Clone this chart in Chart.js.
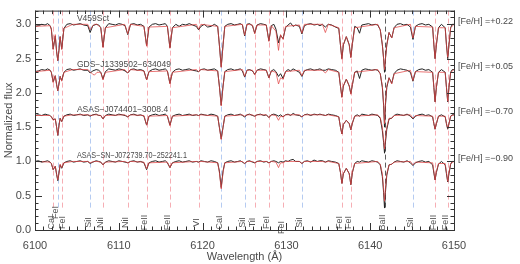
<!DOCTYPE html>
<html lang="en">
<head>
    <meta charset="UTF-8">
    <title>Spectra fit</title>
    <style>
        body { margin: 0; background: #fff; }
        canvas { display: block; }
    </style>
</head>
<body>
    <canvas id="spectra" width="520" height="264"></canvas>

    <script src="https://cdn.jsdelivr.net/npm/chart.js@4.4.1/dist/chart.umd.min.js"></script>
    <script>
        // star names, metallicities and the continuum level each spectrum sits on
        const starNames = ['V459Sct', 'GDS\u2212J1339502\u2212634049', 'ASAS\u2212J074401\u22123008.4', 'ASAS\u2212SN\u2212J072739.70\u2212252241.1'];
        const fehText = ['+0.22', '+0.05', '\u22120.70', '\u22120.90'];
        const continuum = [3.0, 2.34, 1.68, 1.0];

        // identified lines
        const lineWaves = [6102.17, 6102.72, 6103.19, 6106.58, 6108.11, 6111.07, 6113.32, 6116.1, 6119.52, 6122.22, 6125.02,
                           6126.22, 6127.91, 6129.6, 6131.85, 6136.62, 6137.69, 6141.71, 6145.1, 6147.74, 6149.25];
        const lineIons = ['CaI', 'FeI', 'FeI', 'SiI', 'NiI', 'NiI', 'FeII', 'FeII', 'VI', 'CaI', 'SiI',
                          'TiI', 'FeI', 'FeI', 'SiI', 'FeI', 'FeI', 'BaII', 'SiI', 'FeII', 'FeII'];
        const lineFamily = ['r', 'b', 'r', 'b', 'r', 'r', 'r', 'r', 'r', 'b', 'b',
                            'r', 'r', 'r', 'b', 'r', 'r', 'k', 'b', 'r', 'r'];

        // observed spectra (black)
        const obsWave = [
            6100, 6100.4, 6100.8, 6101.2, 6101.5, 6101.8, 6101.95, 6102.17, 6102.42, 6102.58,
            6102.72, 6102.86, 6103.0, 6103.19, 6103.45, 6103.8, 6104.2, 6104.6, 6105.0, 6105.4,
            6105.8, 6106.3, 6106.58, 6106.9, 6107.3, 6107.6, 6107.85, 6108.11, 6108.4, 6108.8,
            6109.2, 6109.6, 6110.0, 6110.4, 6110.75, 6111.07, 6111.4, 6111.8, 6112.2, 6112.6,
            6113.0, 6113.32, 6113.6, 6114.0, 6114.4, 6114.8, 6115.2, 6115.55, 6115.8, 6116.1,
            6116.4, 6116.8, 6117.2, 6117.6, 6118.0, 6118.4, 6118.8, 6119.25, 6119.52, 6119.8,
            6120.2, 6120.6, 6121.0, 6121.4, 6121.8, 6122.0, 6122.22, 6122.44, 6122.65, 6123.0,
            6123.4, 6123.8, 6124.2, 6124.5, 6124.75, 6125.02, 6125.3, 6125.6, 6125.95, 6126.22,
            6126.5, 6126.9, 6127.3, 6127.6, 6127.91, 6128.2, 6128.5, 6128.75, 6129.06, 6129.3,
            6129.6, 6129.9, 6130.2, 6130.5, 6130.8, 6131.1, 6131.55, 6131.85, 6132.15, 6132.5,
            6132.9, 6133.3, 6133.7, 6134.0, 6134.3, 6134.65, 6135.0, 6135.4, 6135.85, 6136.25,
            6136.45, 6136.62, 6136.8, 6137.15, 6137.5, 6137.69, 6137.88, 6138.15, 6138.45, 6138.73,
            6139.0, 6139.4, 6139.8, 6140.2, 6140.6, 6140.9, 6141.2, 6141.45, 6141.6, 6141.71,
            6141.82, 6141.98, 6142.25, 6142.57, 6142.85, 6143.2, 6143.6, 6144.0, 6144.4, 6144.8,
            6145.1, 6145.4, 6145.8, 6146.2, 6146.6, 6147.0, 6147.45, 6147.6, 6147.74, 6147.9,
            6148.15, 6148.5, 6148.95, 6149.1, 6149.25, 6149.4, 6149.6, 6149.8, 6150
        ];
        const v459Obs = [
            2.97, 2.98, 3.0, 2.99, 3.01, 2.98, 2.93, 2.64, 2.83, 2.6,
            2.47, 2.62, 2.82, 2.64, 2.94, 3.0, 3.01, 2.99, 3.0, 3.01,
            2.99, 2.98, 2.88, 2.98, 3.0, 2.99, 2.95, 2.67, 2.95, 3.01,
            3.0, 2.99, 3.01, 3.0, 2.98, 2.85, 3.0, 3.01, 2.99, 3.0,
            2.97, 2.69, 2.96, 3.0, 3.01, 2.99, 3.0, 3.01, 2.97, 2.66,
            2.95, 3.0, 2.97, 3.0, 2.99, 3.01, 2.99, 2.97, 2.92, 2.97,
            3.0, 2.96, 2.97, 3.0, 2.97, 2.7, 2.38, 2.7, 2.97, 3.0,
            3.01, 2.99, 3.0, 3.01, 2.99, 2.83, 3.0, 3.01, 2.98, 2.87,
            2.99, 3.01, 3.0, 2.99, 2.76, 2.98, 3.0, 2.93, 2.73, 2.84,
            2.79, 2.95, 2.99, 3.02, 2.97, 2.99, 2.97, 2.86, 2.98, 3.0,
            3.01, 2.99, 3.0, 2.98, 3.0, 2.96, 3.0, 2.99, 2.96, 2.94,
            2.7, 2.5, 2.7, 2.82, 2.7, 2.52, 2.72, 2.97, 2.95, 2.87,
            2.99, 3.0, 3.01, 2.99, 3.0, 2.99, 2.92, 2.7, 2.5, 2.3,
            2.5, 2.7, 2.88, 2.8, 2.95, 3.0, 3.01, 2.99, 3.0, 2.96,
            2.78, 2.97, 3.0, 3.01, 2.99, 3.0, 2.96, 2.7, 2.5, 2.7,
            2.95, 3.0, 2.95, 2.7, 2.5, 2.7, 2.95, 3.0, 3.0
        ];
        const gdsObs = [
            2.31, 2.32, 2.34, 2.33, 2.35, 2.33, 2.3, 2.16, 2.25, 2.12,
            2.03, 2.13, 2.24, 2.18, 2.3, 2.34, 2.35, 2.33, 2.34, 2.35,
            2.33, 2.33, 2.29, 2.32, 2.34, 2.33, 2.3, 2.2, 2.31, 2.35,
            2.34, 2.33, 2.35, 2.34, 2.32, 2.29, 2.34, 2.35, 2.33, 2.34,
            2.32, 2.19, 2.31, 2.34, 2.35, 2.33, 2.34, 2.35, 2.32, 2.14,
            2.3, 2.34, 2.35, 2.33, 2.34, 2.35, 2.33, 2.32, 2.31, 2.34,
            2.35, 2.33, 2.34, 2.35, 2.32, 2.1, 1.82, 2.1, 2.31, 2.34,
            2.35, 2.33, 2.34, 2.35, 2.32, 2.23, 2.33, 2.34, 2.32, 2.27,
            2.33, 2.35, 2.34, 2.33, 2.22, 2.32, 2.34, 2.31, 2.24, 2.28,
            2.21, 2.31, 2.34, 2.32, 2.35, 2.33, 2.3, 2.24, 2.32, 2.34,
            2.35, 2.33, 2.34, 2.35, 2.33, 2.33, 2.35, 2.34, 2.33, 2.3,
            2.1, 1.94, 2.1, 2.2, 2.1, 1.99, 2.12, 2.3, 2.32, 2.21,
            2.33, 2.35, 2.34, 2.33, 2.34, 2.33, 2.28, 2.08, 1.82, 1.5,
            1.82, 2.08, 2.22, 2.14, 2.28, 2.33, 2.35, 2.34, 2.33, 2.3,
            2.17, 2.31, 2.34, 2.35, 2.33, 2.34, 2.3, 2.08, 1.87, 2.08,
            2.3, 2.34, 2.3, 2.08, 1.87, 2.08, 2.3, 2.34, 2.34
        ];
        const asasObs = [
            1.67, 1.68, 1.67, 1.69, 1.68, 1.67, 1.65, 1.61, 1.62, 1.5,
            1.38, 1.52, 1.63, 1.58, 1.66, 1.68, 1.69, 1.67, 1.68, 1.69,
            1.67, 1.68, 1.66, 1.68, 1.69, 1.67, 1.67, 1.62, 1.67, 1.69,
            1.68, 1.67, 1.69, 1.68, 1.67, 1.65, 1.68, 1.69, 1.67, 1.68,
            1.66, 1.53, 1.66, 1.68, 1.69, 1.67, 1.68, 1.69, 1.66, 1.53,
            1.66, 1.68, 1.69, 1.67, 1.68, 1.69, 1.67, 1.68, 1.67, 1.69,
            1.68, 1.67, 1.69, 1.68, 1.66, 1.5, 1.33, 1.5, 1.66, 1.68,
            1.69, 1.67, 1.68, 1.69, 1.67, 1.65, 1.68, 1.69, 1.67, 1.66,
            1.68, 1.69, 1.67, 1.68, 1.64, 1.68, 1.69, 1.68, 1.66, 1.68,
            1.65, 1.68, 1.69, 1.67, 1.7, 1.68, 1.67, 1.65, 1.68, 1.69,
            1.67, 1.69, 1.68, 1.69, 1.68, 1.67, 1.69, 1.68, 1.67, 1.65,
            1.5, 1.4, 1.54, 1.6, 1.55, 1.46, 1.56, 1.66, 1.68, 1.66,
            1.69, 1.68, 1.67, 1.69, 1.68, 1.67, 1.63, 1.45, 1.28, 1.12,
            1.28, 1.47, 1.62, 1.63, 1.67, 1.69, 1.68, 1.67, 1.69, 1.66,
            1.62, 1.66, 1.68, 1.69, 1.67, 1.68, 1.65, 1.55, 1.47, 1.55,
            1.66, 1.68, 1.65, 1.55, 1.47, 1.55, 1.66, 1.68, 1.68
        ];
        const asasSnObs = [
            1.0, 1.01, 0.99, 1.0, 1.01, 0.99, 0.97, 0.88, 0.93, 0.81,
            0.72, 0.83, 0.95, 0.9, 0.98, 1.0, 1.01, 0.99, 1.0, 1.01,
            0.99, 1.0, 0.97, 0.99, 1.01, 1.0, 0.99, 0.95, 0.99, 1.01,
            1.0, 0.99, 1.01, 1.0, 0.99, 0.98, 1.0, 1.01, 0.99, 1.0,
            0.98, 0.88, 0.98, 1.0, 1.01, 0.99, 1.0, 1.01, 0.98, 0.91,
            0.98, 1.0, 1.01, 0.99, 1.0, 1.01, 0.99, 1.0, 0.99, 1.01,
            1.0, 0.99, 1.01, 1.0, 0.98, 0.86, 0.62, 0.86, 0.98, 1.0,
            1.01, 0.99, 1.0, 1.01, 0.99, 0.97, 1.0, 1.01, 0.99, 0.98,
            1.0, 1.01, 0.99, 1.0, 0.98, 1.0, 1.01, 1.0, 0.98, 1.0,
            0.99, 1.01, 1.0, 1.02, 1.03, 1.0, 1.0, 0.97, 1.0, 1.01,
            0.99, 1.02, 1.0, 1.01, 1.01, 0.99, 1.01, 1.0, 0.99, 0.97,
            0.84, 0.68, 0.82, 0.9, 0.82, 0.66, 0.84, 0.97, 1.0, 0.99,
            1.01, 1.0, 0.99, 1.01, 1.0, 0.99, 0.95, 0.78, 0.55, 0.32,
            0.55, 0.8, 0.95, 0.96, 0.99, 1.01, 1.0, 0.99, 1.01, 0.98,
            0.94, 0.98, 1.0, 1.01, 0.99, 1.0, 0.95, 0.83, 0.73, 0.84,
            0.96, 1.0, 0.95, 0.82, 0.7, 0.82, 0.96, 1.0, 1.0
        ];

        // synthetic fits (red)
        const fitWave = [
            6100, 6101.8, 6101.95, 6102.17, 6102.42, 6102.58, 6102.72, 6102.86, 6103.0, 6103.19,
            6103.45, 6104.5, 6106.3, 6106.58, 6106.9, 6107.1, 6107.4, 6107.85, 6108.11, 6108.4,
            6110.7, 6111.07, 6111.4, 6113.0, 6113.32, 6113.6, 6115.8, 6116.1, 6116.4, 6119.25,
            6119.52, 6119.8, 6121.8, 6122.0, 6122.22, 6122.44, 6122.65, 6124.75, 6125.02, 6125.3,
            6125.95, 6126.22, 6126.5, 6127.6, 6127.91, 6128.2, 6128.75, 6129.06, 6129.3, 6129.6,
            6129.9, 6131.55, 6131.85, 6132.15, 6134.3, 6134.65, 6135.0, 6136.25, 6136.45, 6136.62,
            6136.8, 6137.15, 6137.5, 6137.69, 6137.88, 6138.15, 6140.9, 6141.2, 6141.45, 6141.6,
            6141.71, 6141.82, 6141.98, 6142.25, 6142.57, 6142.85, 6144.8, 6145.1, 6145.4, 6147.45,
            6147.6, 6147.74, 6147.9, 6148.15, 6148.95, 6149.1, 6149.25, 6149.4, 6149.6, 6150
        ];
        const v459Fit = [
            2.97, 2.98, 2.93, 2.63, 2.85, 2.6, 2.47, 2.62, 2.82, 2.63,
            2.94, 3.0, 3.0, 2.92, 2.98, 3.0, 3.0, 2.95, 2.66, 2.95,
            3.0, 2.86, 3.0, 2.97, 2.68, 2.96, 2.97, 2.65, 2.95, 3.0,
            2.93, 3.0, 2.97, 2.7, 2.37, 2.7, 2.97, 3.0, 2.84, 3.0,
            2.99, 2.86, 2.99, 2.99, 2.75, 2.98, 2.9, 2.62, 2.85, 2.78,
            2.97, 2.99, 2.87, 3.0, 3.0, 2.88, 3.0, 2.95, 2.7, 2.49,
            2.7, 2.82, 2.7, 2.51, 2.72, 2.95, 3.0, 2.92, 2.7, 2.5,
            2.34, 2.5, 2.7, 2.88, 2.8, 2.95, 3.0, 2.8, 2.97, 2.96,
            2.7, 2.5, 2.7, 2.95, 2.95, 2.7, 2.52, 2.7, 2.95, 3.0
        ];
        const gdsFit = [
            2.31, 2.33, 2.3, 2.15, 2.25, 2.12, 2.03, 2.13, 2.24, 2.17,
            2.3, 2.34, 2.34, 2.31, 2.27, 2.26, 2.3, 2.3, 2.19, 2.3,
            2.34, 2.29, 2.34, 2.32, 2.19, 2.31, 2.32, 2.13, 2.3, 2.34,
            2.31, 2.34, 2.32, 2.1, 1.81, 2.1, 2.31, 2.34, 2.24, 2.33,
            2.33, 2.26, 2.33, 2.33, 2.22, 2.32, 2.3, 2.13, 2.22, 2.2,
            2.31, 2.33, 2.25, 2.33, 2.33, 2.29, 2.34, 2.3, 2.1, 1.93,
            2.1, 2.2, 2.1, 1.98, 2.12, 2.3, 2.34, 2.28, 2.1, 1.85,
            1.55, 1.85, 2.1, 2.22, 2.13, 2.28, 2.33, 2.18, 2.31, 2.3,
            2.08, 1.87, 2.08, 2.3, 2.3, 2.08, 1.88, 2.08, 2.3, 2.34
        ];
        const asasFit = [
            1.67, 1.67, 1.65, 1.6, 1.62, 1.5, 1.38, 1.52, 1.63, 1.58,
            1.66, 1.68, 1.68, 1.67, 1.675, 1.68, 1.68, 1.67, 1.62, 1.67,
            1.68, 1.65, 1.68, 1.67, 1.53, 1.66, 1.67, 1.52, 1.66, 1.68,
            1.67, 1.68, 1.66, 1.5, 1.32, 1.5, 1.66, 1.68, 1.66, 1.68,
            1.68, 1.66, 1.68, 1.68, 1.64, 1.68, 1.67, 1.6, 1.66, 1.65,
            1.68, 1.68, 1.65, 1.68, 1.68, 1.67, 1.68, 1.65, 1.5, 1.4,
            1.54, 1.6, 1.55, 1.46, 1.56, 1.66, 1.68, 1.64, 1.5, 1.32,
            1.18, 1.32, 1.5, 1.63, 1.63, 1.67, 1.68, 1.63, 1.67, 1.66,
            1.55, 1.47, 1.55, 1.66, 1.66, 1.55, 1.48, 1.55, 1.66, 1.68
        ];
        const asasSnFit = [
            1.0, 0.99, 0.97, 0.88, 0.93, 0.82, 0.73, 0.83, 0.96, 0.91,
            0.98, 1.0, 1.0, 0.98, 0.995, 1.0, 1.0, 0.99, 0.95, 0.99,
            1.0, 0.98, 1.0, 0.99, 0.89, 0.98, 0.99, 0.91, 0.98, 1.0,
            0.99, 1.0, 0.98, 0.84, 0.6, 0.84, 0.98, 1.0, 0.97, 1.0,
            1.0, 0.98, 1.0, 1.0, 0.98, 1.0, 0.99, 0.91, 0.98, 0.98,
            1.0, 1.0, 0.97, 1.0, 1.0, 0.99, 1.0, 0.97, 0.84, 0.68,
            0.82, 0.9, 0.82, 0.66, 0.84, 0.97, 1.0, 0.96, 0.82, 0.6,
            0.42, 0.6, 0.82, 0.95, 0.96, 0.99, 1.0, 0.95, 0.99, 0.98,
            0.85, 0.73, 0.85, 0.97, 0.97, 0.84, 0.71, 0.84, 0.97, 1.0
        ];

        // styling
        const font = 'Liberation Sans, Arial, sans-serif';
        const textGrey = '#4a4a4a';
        const familyColor = { r: 'rgba(240,120,130,0.6)', b: 'rgba(120,160,230,0.55)', k: 'rgba(40,40,40,0.75)' };
        const labelNudge = { 1: { dy: -10 }, 2: { dx: 3 }, 13: { dy: 5 } };

        function series(wave, flux, color) {
            return {
                data: wave.map((w, i) => ({ x: w, y: flux[i] })),
                borderColor: color,
                borderWidth: 1,
                pointRadius: 0,
                tension: 0,
                fill: false
            };
        }

        const red = 'rgba(225,70,70,0.75)';
        const black = '#222';
        const datasets = [
            series(fitWave, v459Fit, red), series(fitWave, gdsFit, red),
            series(fitWave, asasFit, red), series(fitWave, asasSnFit, red),
            series(obsWave, v459Obs, black), series(obsWave, gdsObs, black),
            series(obsWave, asasObs, black), series(obsWave, asasSnObs, black)
        ];

        // dashed line markers, their labels, the boxed frame and the side texts
        const decor = {
            id: 'decor',
            beforeDatasetsDraw(chart) {
                const { ctx, chartArea: a, scales: { x, y } } = chart;
                ctx.save();
                ctx.lineWidth = 1;
                ctx.setLineDash([5, 3]);
                const stop = y.getPixelForValue(0.3);
                lineWaves.forEach((w, i) => {
                    const px = Math.round(x.getPixelForValue(w)) + 0.5;
                    ctx.strokeStyle = familyColor[lineFamily[i]];
                    ctx.beginPath();
                    ctx.moveTo(px, a.top);
                    ctx.lineTo(px, stop);
                    ctx.stroke();
                });
                ctx.setLineDash([]);
                ctx.fillStyle = '#555';
                ctx.font = '9px ' + font;
                ctx.textAlign = 'center';
                ctx.textBaseline = 'alphabetic';
                lineWaves.forEach((w, i) => {
                    const n = labelNudge[i] || {};
                    const px = x.getPixelForValue(w) + 0.5 + (n.dx || 0);
                    const py = y.getPixelForValue(0.11) + (n.dy || 0);
                    ctx.save();
                    ctx.translate(px, py);
                    ctx.rotate(-Math.PI / 2);
                    ctx.fillText(lineIons[i], 0, 0);
                    ctx.restore();
                });
                ctx.restore();
            },
            afterDraw(chart) {
                const { ctx, chartArea: a, scales: { x, y } } = chart;
                ctx.save();
                ctx.strokeStyle = '#333';
                ctx.lineWidth = 1;
                ctx.strokeRect(a.left + 0.5, a.top + 0.5, a.right - a.left, a.bottom - a.top);
                ctx.beginPath();
                for (let k = 0; k <= 50; k++) {
                    const px = Math.round(x.getPixelForValue(6100 + k)) + 0.5;
                    const len = k % 10 === 0 ? 7 : 3.5;
                    ctx.moveTo(px, a.bottom); ctx.lineTo(px, a.bottom - len);
                    ctx.moveTo(px, a.top); ctx.lineTo(px, a.top + len);
                }
                for (let k = 0; k <= 32; k++) {
                    const py = Math.round(y.getPixelForValue(k / 10)) + 0.5;
                    const len = k % 5 === 0 ? 7 : 3.5;
                    ctx.moveTo(a.left, py); ctx.lineTo(a.left + len, py);
                    ctx.moveTo(a.right, py); ctx.lineTo(a.right - len, py);
                }
                ctx.stroke();

                ctx.fillStyle = textGrey;
                ctx.textBaseline = 'alphabetic';
                ctx.textAlign = 'left';
                ctx.font = '8.5px ' + font;
                starNames.forEach((name, i) => {
                    const py = y.getPixelForValue(continuum[i]) - 3;
                    ctx.fillText(name, x.getPixelForValue(6105.0), py, 110);
                });
                ctx.font = '9px ' + font;
                ctx.textBaseline = 'middle';
                fehText.forEach((v, i) => {
                    const py = y.getPixelForValue(continuum[i]) - 3;
                    ctx.fillText('[Fe/H] =' + v, a.right + 4, py);
                });
                ctx.restore();
            }
        };

        new Chart(document.getElementById('spectra'), {
            type: 'line',
            data: { datasets },
            options: {
                responsive: false,
                animation: false,
                layout: { padding: { top: 1, right: 66, left: 0, bottom: 0 } },
                plugins: { legend: { display: false }, tooltip: { enabled: false } },
                scales: {
                    x: {
                        type: 'linear', min: 6100, max: 6150,
                        afterFit: s => { s.height = 34; },
                        grid: { display: false, drawTicks: false },
                        border: { display: false },
                        ticks: {
                            stepSize: 10, padding: 9, maxRotation: 0, color: textGrey,
                            font: { family: font, size: 11 },
                            callback: v => String(v)
                        },
                        title: {
                            display: true, text: 'Wavelength (\u00C5)', color: textGrey,
                            font: { family: font, size: 11 }, padding: 0
                        }
                    },
                    y: {
                        min: 0, max: 3.2,
                        afterFit: s => { s.width = 35; },
                        grid: { display: false, drawTicks: false },
                        border: { display: false },
                        ticks: {
                            stepSize: 0.5, includeBounds: false, padding: 4, color: textGrey,
                            font: { family: font, size: 11 },
                            callback: v => v.toFixed(1)
                        },
                        title: {
                            display: true, text: 'Normalized flux', color: textGrey,
                            font: { family: font, size: 11 }, padding: 2
                        }
                    }
                }
            },
            plugins: [decor]
        });
    </script>
</body>
</html>
